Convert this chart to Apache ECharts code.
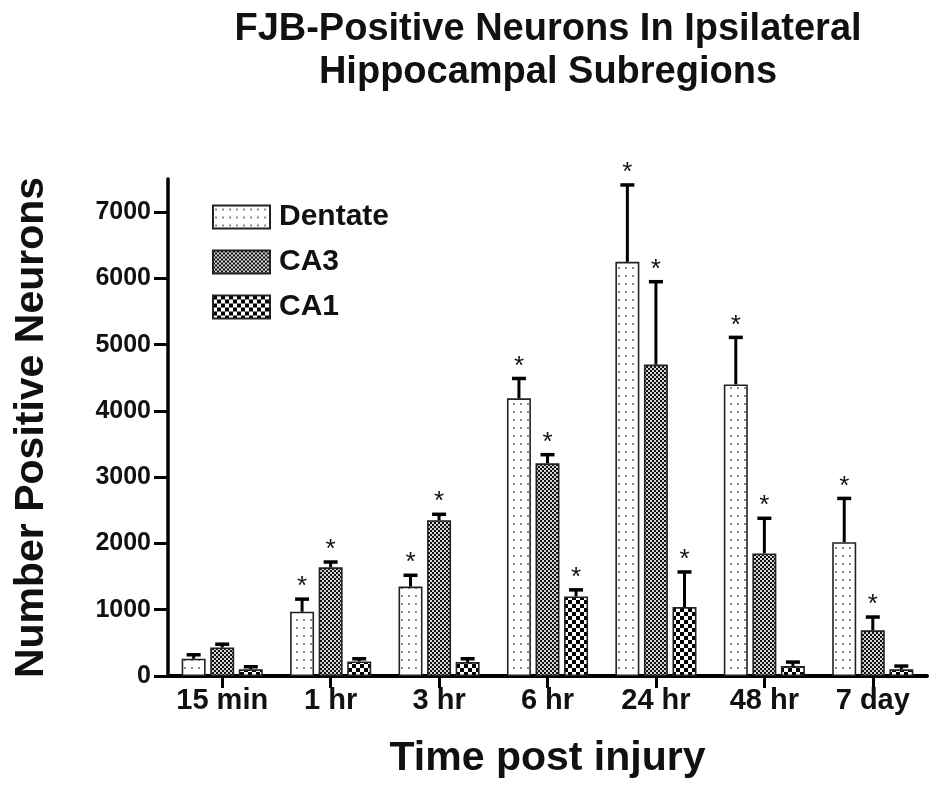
<!DOCTYPE html>
<html><head><meta charset="utf-8">
<script src="https://cdn.jsdelivr.net/npm/echarts@6/dist/echarts.min.js"></script>
<style>html,body{margin:0;padding:0;background:#fff}#c{width:951px;height:798px}</style>
</head><body><div id="c"></div>
<script>
const categories = ['15 min', '1 hr', '3 hr', '6 hr', '24 hr', '48 hr', '7 day'];
const seriesNames = ['Dentate', 'CA3', 'CA1'];
const dentate    = [260, 970, 1350, 4190, 6250, 4400, 2020];
const dentateErr = [60, 190, 170, 300, 1160, 710, 660];
const dentateSig = [0, 1, 1, 1, 1, 1, 1];
const ca3        = [430, 1640, 2350, 3210, 4700, 1850, 690];
const ca3Err     = [50, 80, 90, 130, 1250, 530, 200];
const ca3Sig     = [0, 1, 1, 1, 1, 1, 1];
const ca1        = [100, 220, 210, 1200, 1040, 150, 100];
const ca1Err     = [40, 40, 50, 100, 530, 60, 50];
const ca1Sig     = [0, 0, 0, 1, 1, 0, 0];
const yTicks = [0, 1000, 2000, 3000, 4000, 5000, 6000, 7000];

const FONT = 'Liberation Sans, Arial, sans-serif';
const BAR_W = 24, BAR_GAP = 0.19, BAR_STEP = BAR_W * (1 + BAR_GAP);

function pattern(kind) {
  const c = document.createElement('canvas');
  const g = c.getContext('2d');
  if (kind === 0) {
    c.width = 7; c.height = 8;
    g.fillStyle = '#fff'; g.fillRect(0, 0, 7, 8);
    g.fillStyle = '#8a8a8a'; g.fillRect(2, 3, 2, 2);
  } else if (kind === 1) {
    c.width = 4; c.height = 4;
    g.fillStyle = '#d4d4d4'; g.fillRect(0, 0, 4, 4);
    g.fillStyle = '#111'; g.fillRect(0, 0, 2, 2); g.fillRect(2, 2, 2, 2);
  } else {
    c.width = 8; c.height = 8;
    g.fillStyle = '#fff'; g.fillRect(0, 0, 8, 8);
    g.fillStyle = '#000'; g.fillRect(0, 0, 4, 4); g.fillRect(4, 4, 4, 4);
  }
  return { image: c, repeat: 'repeat' };
}

const values = [dentate, ca3, ca1];
const errs = [dentateErr, ca3Err, ca1Err];
const sigs = [dentateSig, ca3Sig, ca1Sig];

const errData = [];
for (let s = 0; s < 3; s++) {
  for (let i = 0; i < categories.length; i++) {
    errData.push([i, values[s][i], errs[s][i], sigs[s][i], s]);
  }
}

const barSeries = seriesNames.map((n, s) => ({
  name: n, type: 'bar', data: values[s], barWidth: BAR_W, barGap: (BAR_GAP * 100) + '%',
  itemStyle: { color: pattern(s), borderColor: '#222', borderWidth: 1.6 },
  emphasis: { disabled: true }
}));

const chart = echarts.init(document.getElementById('c'), null, { renderer: 'canvas' });
chart.setOption({
  animation: false,
  backgroundColor: '#fff',
  graphic: [{
    type: 'text', x: 548, y: 8,
    style: {
      text: 'FJB-Positive Neurons In Ipsilateral\nHippocampal Subregions',
      font: 'bold 38px ' + FONT, fill: '#111', align: 'center', verticalAlign: 'top', lineHeight: 43
    }
  }],
  legend: {
    data: seriesNames, orient: 'vertical', left: 212, top: 202, padding: 0,
    icon: 'rect', itemWidth: 57, itemHeight: 23, itemGap: 15, selectedMode: false,
    textStyle: { fontFamily: FONT, fontWeight: 'bold', fontSize: 30, color: '#111', padding: [0, 0, 0, 4] }
  },
  grid: { left: 168, right: 24, top: 179, bottom: 122, containLabel: false },
  xAxis: {
    type: 'category', data: categories,
    name: 'Time post injury', nameLocation: 'middle', nameGap: 62,
    nameTextStyle: { fontFamily: FONT, fontWeight: 'bold', fontSize: 41, color: '#111' },
    axisLine: { lineStyle: { color: '#000', width: 4 } },
    axisTick: { show: true, alignWithLabel: true, length: 12, lineStyle: { color: '#000', width: 3 } },
    axisLabel: { interval: 0, fontFamily: FONT, fontWeight: 'bold', fontSize: 29, color: '#111', margin: 10 },
    splitLine: { show: false }
  },
  yAxis: {
    type: 'value', min: 0, max: 7500,
    name: 'Number Positive Neurons', nameLocation: 'middle', nameGap: 116,
    nameTextStyle: { fontFamily: FONT, fontWeight: 'bold', fontSize: 41, color: '#111' },
    axisLine: { show: true, lineStyle: { color: '#000', width: 3.5 } },
    axisTick: { show: true, customValues: yTicks, length: 14, lineStyle: { color: '#000', width: 3 } },
    axisLabel: { customValues: yTicks, formatter: v => String(v), fontFamily: FONT, fontWeight: 'bold', fontSize: 25, color: '#111', margin: 17 },
    splitLine: { show: false }
  },
  series: barSeries.concat([{
    type: 'custom', name: 'err', z: 5, data: errData,
    encode: { x: 0, y: 1 },
    renderItem: function (params, api) {
      const cat = api.value(0), val = api.value(1), err = api.value(2), sig = api.value(3), s = api.value(4);
      const base = api.coord([cat, val]);
      const top = api.coord([cat, val + err]);
      const x = base[0] + (s - 1) * BAR_STEP;
      const children = [
        { type: 'line', shape: { x1: x, y1: base[1], x2: x, y2: top[1] }, style: { stroke: '#000', lineWidth: 3 } },
        { type: 'line', shape: { x1: x - 7, y1: top[1], x2: x + 7, y2: top[1] }, style: { stroke: '#000', lineWidth: 3.5 } }
      ];
      if (sig) {
        children.push({ type: 'text', x: x, y: top[1] - 12,
          style: { text: '*', font: 'normal 26px ' + FONT, fill: '#111', align: 'center', verticalAlign: 'middle' } });
      }
      return { type: 'group', children: children };
    }
  }])
});
</script></body></html>
